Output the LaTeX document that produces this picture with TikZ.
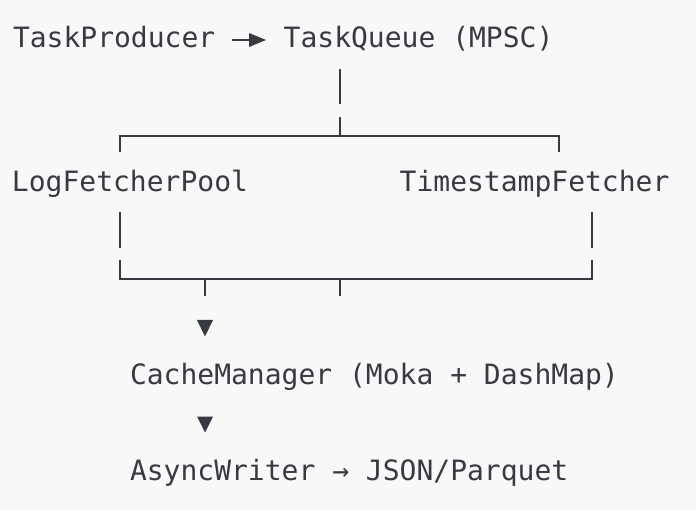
\documentclass[tikz,border=0pt]{standalone}
\usepackage{fontspec}
\newfontfamily\monofnt{DejaVu Sans Mono}
\definecolor{bg}{HTML}{F8F8F8}
\definecolor{ink}{HTML}{383A42}
\begin{document}
\begin{tikzpicture}[x=1pt,y=-1pt,
  lbl/.style={anchor=base west,inner sep=0pt,outer sep=0pt,text=ink,font=\monofnt\fontsize{28}{34}\selectfont},
  wire/.style={draw=ink,line width=2.4pt},
  tri/.style={fill=ink,draw=none}]
\useasboundingbox (0,0) rectangle (696,510);
\fill[bg] (0,0) rectangle (696,510);
% labels
\node[lbl] (tp) at (13,48) {TaskProducer};
\node[lbl] (tq) at (283.7,48) {TaskQueue (MPSC)};
\node[lbl] (lf) at (12,192) {LogFetcherPool};
\node[lbl] (ts) at (399.7,192) {TimestampFetcher};
\node[lbl] (cm) at (130,384.5) {CacheManager (Moka + DashMap)};
\node[lbl] (aw) at (130,480) {AsyncWriter → JSON/Parquet};
% TaskProducer -> TaskQueue
\coordinate (a0) at (232,40);
\coordinate (a1) at (250,40);
\coordinate (atip) at (266,40);
\draw[wire,line width=2.2pt] (a0) -- (a1);
\fill[ink] (249,33) -- (atip) -- (249,47) -- cycle;
% TaskQueue down to split
\coordinate (q0) at (340,69);
\coordinate (q1) at (340,104);
\coordinate (q2) at (340,117);
\coordinate (sp) at (340,136);
\coordinate (sl) at (120,136);
\coordinate (sr) at (559,136);
\draw[wire] (q0) -- (q1);
\draw[wire] (q2) -- (sp);
\draw[wire] (120,152) -- (sl) -- (sr) -- (559,152);
% fetchers down to merge
\coordinate (l0) at (120,212);
\coordinate (l1) at (120,248);
\coordinate (l2) at (120,260);
\coordinate (ml) at (120,279);
\coordinate (r0) at (592,212);
\coordinate (r1) at (592,248);
\coordinate (r2) at (592,260);
\coordinate (mr) at (592,279);
\draw[wire] (l0) -- (l1);
\draw[wire] (r0) -- (r1);
\draw[wire] (l2) -- (ml) -- (mr) -- (r2);
% ticks below merge
\draw[wire] (205,279) -- (205,296);
\draw[wire] (340,279) -- (340,296);
% down arrows
\fill[ink] (197,320) -- (213,320) -- (205,336.5) -- cycle;
\fill[ink] (197,416.5) -- (213,416.5) -- (205,432.5) -- cycle;
\end{tikzpicture}
\end{document}
